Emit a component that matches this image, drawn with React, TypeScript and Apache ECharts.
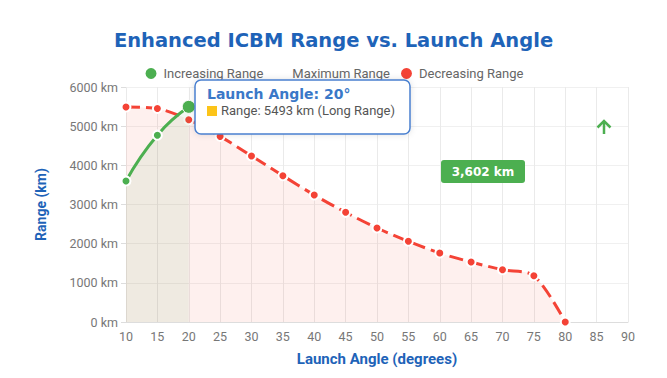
import React, { useEffect, useRef } from "react";
import * as echarts from "echarts";

const increasingAngles = [10, 15, 20];
const increasingRange = [3602, 4770, 5493];
const decreasingAngles = [10, 15, 20, 25, 30, 35, 40, 45, 50, 55, 60, 65, 70, 75, 80];
const decreasingRange = [5490, 5450, 5165, 4740, 4240, 3735, 3242, 2800, 2400, 2060, 1760, 1530, 1335, 1180, 0];
const maxAngle = [20];
const maxRange = [5493];
const seriesNames = ["Increasing Range", "Maximum Range", "Decreasing Range"];

export default function App() {
  const ref = useRef<HTMLDivElement>(null);
  useEffect(() => {
    if (!ref.current) return;
    const chart = echarts.init(ref.current, null, { renderer: "svg" });
    const font = "Roboto, 'Noto Sans', sans-serif";
    chart.setOption({
      animation: false,
      textStyle: { fontFamily: font },
      title: {
        text: "Enhanced ICBM Range vs. Launch Angle",
        left: "center",
        top: 25,
        textStyle: { color: "#1e63b8", fontSize: 19.5, fontWeight: "bold", fontFamily: "'DejaVu Sans', sans-serif" },
      },
      legend: {
        top: 61,
        left: "center",
        itemWidth: 15,
        itemHeight: 13,
        itemGap: 9,
        textStyle: { color: "#666", fontSize: 13 },
        data: [
          { name: seriesNames[0], icon: "circle" },
          { name: seriesNames[1], icon: "circle", itemStyle: { opacity: 0 } },
          { name: seriesNames[2], icon: "circle" },
        ],
      },
      grid: { left: 126, right: 39, top: 87, bottom: 56 },
      xAxis: {
        type: "value",
        min: 10,
        max: 90,
        interval: 5,
        name: "Launch Angle (degrees)",
        nameLocation: "middle",
        nameGap: 29,
        nameTextStyle: { color: "#1e63b8", fontWeight: "bold", fontSize: 15 },
        axisLine: { lineStyle: { color: "#ddd" } },
        axisTick: { show: false },
        axisLabel: { color: "#777", fontSize: 12.5 },
        splitLine: { show: true, lineStyle: { color: "#eaeaea" } },
      },
      yAxis: {
        type: "value",
        min: 0,
        max: 6000,
        interval: 1000,
        name: "Range (km)",
        nameLocation: "middle",
        nameGap: 78,
        nameTextStyle: { color: "#1e63b8", fontWeight: "bold", fontSize: 14 },
        axisLine: { show: false },
        axisTick: { show: true, lineStyle: { color: "#ddd" } },
        axisLabel: { color: "#777", fontSize: 12.5, formatter: (v: number) => v + " km" },
        splitLine: { show: true, lineStyle: { color: "#f0f0f0" } },
      },
      series: [
        {
          name: seriesNames[2],
          type: "line",
          smooth: 0.3,
          data: decreasingAngles.map((a, i) => [a, decreasingRange[i]]),
          symbol: "circle",
          symbolSize: 9,
          lineStyle: { color: "#f44336", width: 3, type: [14, 6] },
          itemStyle: { color: "#f44336", borderColor: "#fff", borderWidth: 2 },
          areaStyle: { color: "rgba(244,67,54,0.12)" },
          z: 2,
        },
        {
          name: seriesNames[0],
          type: "line",
          smooth: true,
          data: increasingAngles.map((a, i) => [a, increasingRange[i]]),
          symbol: "circle",
          symbolSize: 9,
          lineStyle: { color: "#4caf50", width: 3 },
          itemStyle: { color: "#4caf50", borderColor: "#fff", borderWidth: 2 },
          areaStyle: { color: "rgba(76,175,80,0.12)" },
          z: 3,
        },
        {
          name: seriesNames[1],
          type: "scatter",
          data: maxAngle.map((a, i) => [a, maxRange[i]]),
          symbol: "circle",
          symbolSize: 13,
          itemStyle: { color: "#4caf50", borderColor: "#fff", borderWidth: 1, opacity: 1 },
          z: 4,
        },
      ],
      graphic: [
        {
          type: "rect",
          shape: { x: 195, y: 80, width: 215, height: 54, r: 6 },
          style: { fill: "#fff", stroke: "#4a80d0", lineWidth: 1.5, shadowBlur: 6, shadowColor: "rgba(0,0,0,0.12)" },
          z: 100,
        },
        {
          type: "text",
          x: 207,
          y: 87,
          style: { text: "Launch Angle: 20°", fill: "#3a78c8", font: "bold 14px 'DejaVu Sans', sans-serif" },
          z: 101,
        },
        {
          type: "rect",
          shape: { x: 207, y: 106, width: 10, height: 10 },
          style: { fill: "#fcc419" },
          z: 101,
        },
        {
          type: "text",
          x: 221,
          y: 104,
          style: { text: "Range: 5493 km (Long Range)", fill: "#555", font: "13px Roboto, sans-serif" },
          z: 101,
        },
        {
          type: "rect",
          shape: { x: 441, y: 160, width: 84, height: 23, r: 3 },
          style: { fill: "#4caf50" },
          z: 100,
        },
        {
          type: "text",
          x: 483,
          y: 172,
          style: { text: "3,602 km", fill: "#fff", font: "bold 12px 'DejaVu Sans', sans-serif", textAlign: "center", textVerticalAlign: "middle" },
          z: 101,
        },
        {
          type: "polyline",
          shape: { points: [[604, 134], [604, 121]] },
          style: { stroke: "#4caf50", lineWidth: 2.5, fill: "none" },
          z: 100,
        },
        {
          type: "polyline",
          shape: { points: [[597.5, 127.5], [604, 121], [610.5, 127.5]] },
          style: { stroke: "#4caf50", lineWidth: 2.5, fill: "none" },
          z: 100,
        },
      ],
    });
    return () => chart.dispose();
  }, []);
  return <div ref={ref} style={{ width: 667, height: 378, position: "absolute", left: 0, top: 0 }} />;
}
